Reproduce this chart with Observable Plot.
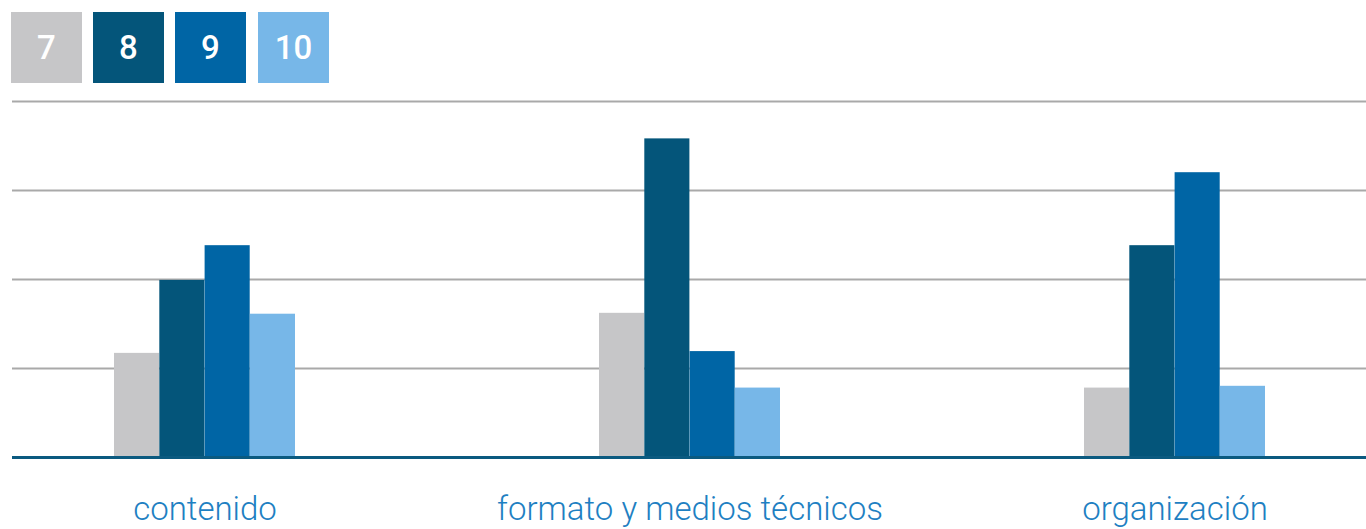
<!DOCTYPE html>
<html>
<head>
<meta charset="utf-8">
<script src="https://cdn.jsdelivr.net/npm/d3@7"></script>
<script src="https://cdn.jsdelivr.net/npm/@observablehq/plot@0.6"></script>
<style>
  html, body { margin: 0; padding: 0; background: #fff; }
  #legend { position: relative; height: 90px; width: 1366px; }
  .key { position: absolute; top: 12px; width: 71px; height: 71px; color: #fff;
         font-family: Roboto, sans-serif; font-weight: 500; font-size: 33px;
         display: flex; align-items: center; justify-content: center; }
  #chart svg { display: block; }
</style>
</head>
<body>
<div id="legend"></div>
<div id="chart"></div>
<script>
const categories = ["contenido", "formato y medios técnicos", "organización"];
const series = ["7", "8", "9", "10"];
const colors = ["#c6c6c8", "#04557a", "#0065a5", "#77b7e8"];
const values7  = [11.7, 16.2, 7.8];
const values8  = [19.9, 35.8, 23.8];
const values9  = [23.8, 11.9, 32.0];
const values10 = [16.1, 7.8, 8.0];
const yTicks = [10, 20, 30, 40];

const seriesValues = [values7, values8, values9, values10];
const data = [];
series.forEach((s, k) => categories.forEach((c, i) => data.push({category: c, series: s, k, value: seriesValues[k][i]})));

// legend
const legend = document.getElementById("legend");
const keyLeft = [11, 93, 175, 258];
series.forEach((s, k) => {
  const d = document.createElement("div");
  d.className = "key";
  d.style.left = keyLeft[k] + "px";
  d.style.background = colors[k];
  d.textContent = s;
  legend.appendChild(d);
});

const W = 1366, H = 439, mL = 12, mR = 0, mT = 11, mB = 72;
const padIn = 0.627, padOut = 0.207;
const step = (W - mL - mR) / (categories.length - padIn + 2 * padOut);
const bw = step * (1 - padIn);
const sub = bw / series.length;

const barMarks = series.map((s, k) =>
  Plot.barY(data.filter(d => d.k === k), {
    x: "category", y: "value", fill: colors[k],
    insetLeft: k * sub, insetRight: (series.length - 1 - k) * sub
  })
);

const chart = Plot.plot({
  width: W, height: H,
  marginLeft: mL, marginRight: mR, marginTop: mT, marginBottom: mB,
  style: {background: "transparent"},
  x: {type: "band", domain: categories, paddingInner: padIn, paddingOuter: padOut, label: null},
  y: {domain: [0, 40], axis: null},
  marks: [
    Plot.ruleY(yTicks, {stroke: "#a9a9a9", strokeWidth: 2}),
    ...barMarks,
    Plot.ruleY([0], {stroke: "#0b5a80", strokeWidth: 3}),
    Plot.axisX({tickSize: 0, tickPadding: 39, fontSize: 33, fill: "#1e80c2",
                fontFamily: "Roboto", fontWeight: 300, label: null})
  ]
});
document.getElementById("chart").appendChild(chart);
</script>
</body>
</html>
